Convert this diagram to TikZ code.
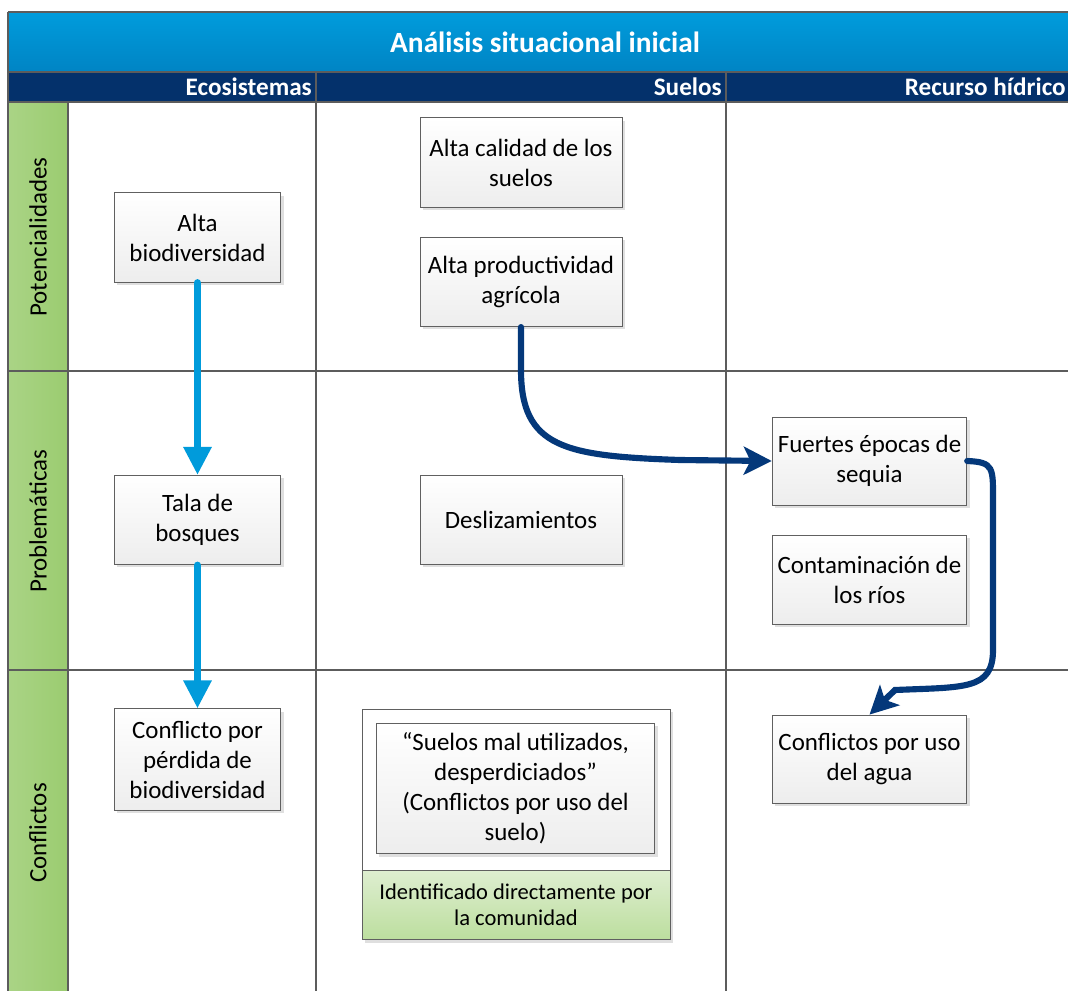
\documentclass[tikz,border=0pt]{standalone}
\usepackage{fontspec}
\setmainfont{Carlito}
\usetikzlibrary{arrows.meta,shadows}

\definecolor{azulTitulo}{RGB}{0,156,220}
\definecolor{azulTituloB}{RGB}{0,132,196}
\definecolor{azulOscuro}{RGB}{4,49,107}
\definecolor{verdeCarril}{RGB}{155,204,112}
\definecolor{verdeClaro}{RGB}{222,238,208}
\definecolor{verdeMedio}{RGB}{188,222,158}
\definecolor{azulFlecha}{RGB}{0,155,219}
\definecolor{azulNavy}{RGB}{4,56,122}
\definecolor{lineaGris}{RGB}{92,92,92}

\begin{document}
\begin{tikzpicture}[x=0.75pt,y=-0.75pt,
    rejilla/.style={draw=lineaGris, line width=1.4pt},
    caja/.style={draw=gray!75!black, line width=0.6pt, top color=white, bottom color=gray!14,
        drop shadow={shadow xshift=2pt, shadow yshift=-2pt, opacity=0.25},
        align=center, inner sep=1pt, font=\fontsize{18.7}{22.5}\selectfont},
    encabezado/.style={text=white, inner sep=0pt, font=\bfseries\fontsize{18.9}{22}\selectfont},
    carril/.style={rotate=90, font=\fontsize{18.7}{22.5}\selectfont},
    flechaAzul/.style={draw=azulFlecha, line width=5.2pt, line cap=round,
        -{Triangle[width=20pt,length=21pt]}},
    flechaNavy/.style={draw=azulNavy, line width=4.6pt, line cap=round,
        -{Stealth[width=21pt,length=21pt,inset=5pt]}}]

    \useasboundingbox (0,0) rectangle (1068,990);
    \clip (0,0) rectangle (1068,990);

    % Title band
    \shade[top color=azulTitulo, bottom color=azulTituloB] (8,12) rectangle (1090,72);
    \node[encabezado, font=\bfseries\fontsize{22}{26}\selectfont] (titulo) at (545,42)
        {Análisis situacional inicial};

    % Column headers
    \fill[azulOscuro] (8,72) rectangle (1090,102);
    \node[encabezado, anchor=east] (colEco) at (312,87) {Ecosistemas};
    \node[encabezado, anchor=east] (colSue) at (722,87) {Suelos};
    \node[encabezado, anchor=east] (colRec) at (1066,87) {Recurso hídrico};

    % Lane column
    \shade[left color=verdeCarril!85!white, right color=verdeCarril] (8,102) rectangle (68,1010);

    % Grid lines
    \draw[rejilla] (8,12) -- (1090,12);
    \draw[rejilla] (8,72) -- (1090,72);
    \draw[rejilla] (8,102) -- (1090,102);
    \draw[rejilla] (8,12) -- (8,1010);
    \draw[rejilla] (68,102) -- (68,1010);
    \foreach \x in {316,726} {
        \draw[rejilla] (\x,72) -- (\x,1010);
    }
    \foreach \y in {371,670} {
        \draw[rejilla] (8,\y) -- (1090,\y);
    }

    % Lane labels
    \node[carril] (lanePot) at (38,237) {Potencialidades};
    \node[carril] (laneProb) at (38,521) {Problemáticas};
    \node[carril] (laneConf) at (38,833) {Conflictos};

    % Ecosistemas
    \node[caja, minimum width=125pt, minimum height=67pt] (biodiv) at (197.5,237.5)
        {Alta\\biodiversidad};
    \node[caja, minimum width=125pt, minimum height=67pt] (tala) at (197.5,520)
        {Tala de\\bosques};
    \node[caja, minimum width=125pt, minimum height=76pt] (confbio) at (197.5,759.5)
        {Conflicto por\\pérdida de\\biodiversidad};

    % Suelos
    \node[caja, minimum width=151.5pt, minimum height=67pt] (calidad) at (521,162.5)
        {Alta calidad de los\\suelos};
    \node[caja, minimum width=151.5pt, minimum height=67pt] (product) at (521,282)
        {Alta productividad\\agrícola};
    \node[caja, minimum width=151.5pt, minimum height=67pt] (desliz) at (521,520)
        {Deslizamientos};
    \node[draw=gray!75!black, line width=0.6pt, fill=white,
        drop shadow={shadow xshift=2pt, shadow yshift=-2pt, opacity=0.25},
        minimum width=231pt, minimum height=173pt] (contenedor) at (516,824.5) {};
    \node[caja, minimum width=209pt, minimum height=98pt] (suelomal) at (515.5,788.5)
        {“Suelos mal utilizados,\\desperdiciados”\\(Conflictos por uso del\\suelo)};
    \node[draw=gray!75!black, line width=0.6pt, top color=verdeClaro, bottom color=verdeMedio,
        minimum width=231pt, minimum height=52pt, anchor=south, align=center, inner sep=1pt,
        font=\fontsize{16.9}{19.5}\selectfont] (comunidad) at (contenedor.south)
        {Identificado directamente por\\la comunidad};

    % Recurso hidrico
    \node[caja, minimum width=146pt, minimum height=66pt] (sequia) at (869.5,461)
        {Fuertes épocas de\\sequia};
    \node[caja, minimum width=146pt, minimum height=67pt] (contam) at (869.5,580)
        {Contaminación de\\los ríos};
    \node[caja, minimum width=146pt, minimum height=66pt] (agua) at (869.5,759)
        {Conflictos por uso\\del agua};

    % Connectors
    \draw[flechaAzul] (biodiv.south) -- (tala.north);
    \draw[flechaAzul] (tala.south) -- (confbio.north);
    \draw[flechaNavy] (product.south) -- (521,370)
        .. controls (521,448) and (565,456) .. (680,460) -- (sequia.west);
    \draw[flechaNavy] (sequia.east) .. controls (994,462) and (993,468) .. (993,500)
        -- (993,650) .. controls (993,690) and (965,687) .. (895,690) -- (agua.north);

\end{tikzpicture}
\end{document}
